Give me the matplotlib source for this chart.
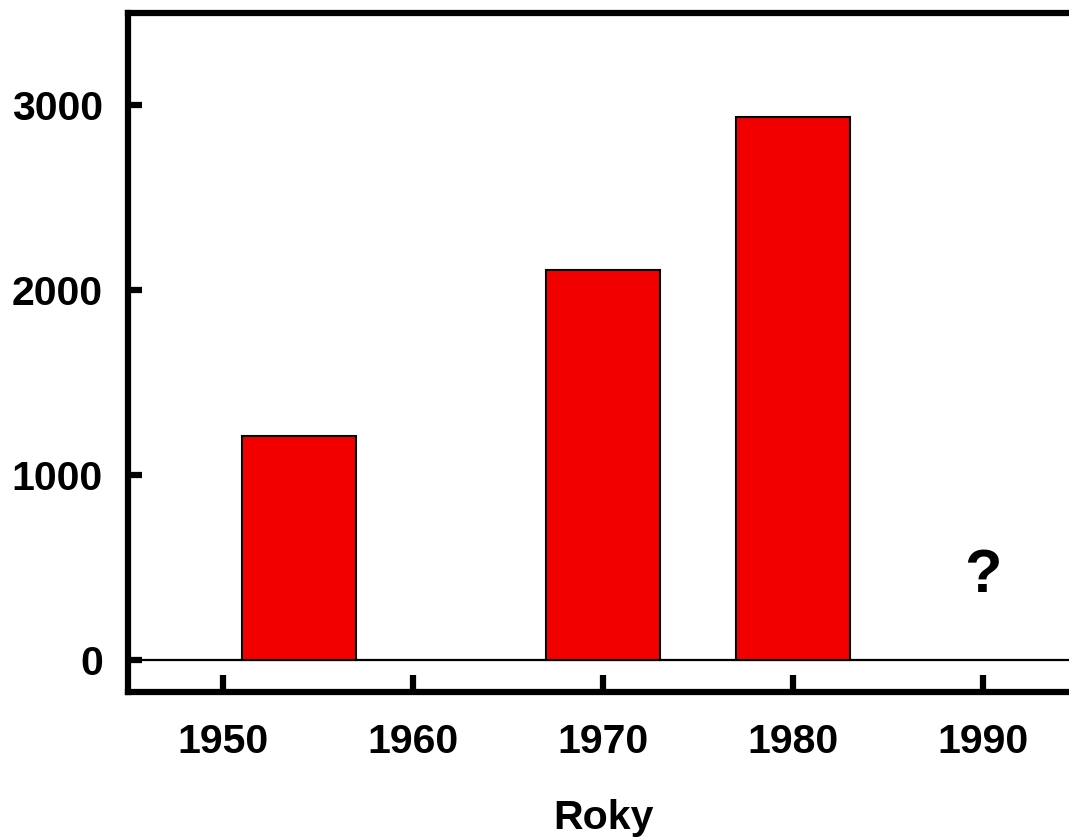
import matplotlib.pyplot as plt

# data
bar_years = [1954, 1970, 1980]
bar_values = [1210, 2110, 2935]
x_ticks = [1950, 1960, 1970, 1980, 1990]
y_ticks = [0, 1000, 2000, 3000]
unknown_year = 1990
unknown_value = 370

plt.rcParams['font.family'] = ['Liberation Sans', 'DejaVu Sans']
plt.rcParams['font.weight'] = 'bold'

fig = plt.figure(figsize=(10.69, 8.38), dpi=100)
ax = fig.add_axes([0.1197, 0.1742, 0.8887, 0.8103])

# bars
ax.bar(bar_years, bar_values, width=6, color='#f20000',
       edgecolor='black', linewidth=1.5, zorder=3)

# zero line
ax.axhline(0, color='black', linewidth=1.6, zorder=2)

# question mark for 1990
ax.text(unknown_year, unknown_value, '?', fontsize=44, fontweight='bold',
        ha='center', va='baseline')

ax.set_xlim(1945, 1995)
ax.set_ylim(-172, 3500)
ax.set_xticks(x_ticks)
ax.set_yticks(y_ticks)

for side in ['left', 'top', 'bottom']:
    ax.spines[side].set_linewidth(4.5)
ax.spines['right'].set_visible(False)

ax.tick_params(axis='x', direction='in', length=12, width=4.5,
               labelsize=29.5, pad=22)
ax.tick_params(axis='y', direction='in', length=10, width=4.5,
               labelsize=29.5, pad=18)
for lab in ax.get_xticklabels() + ax.get_yticklabels():
    lab.set_fontweight('bold')

ax.set_xlabel('Roky', fontsize=29.5, fontweight='bold', labelpad=28)

fig.savefig('out.png', dpi=100)
